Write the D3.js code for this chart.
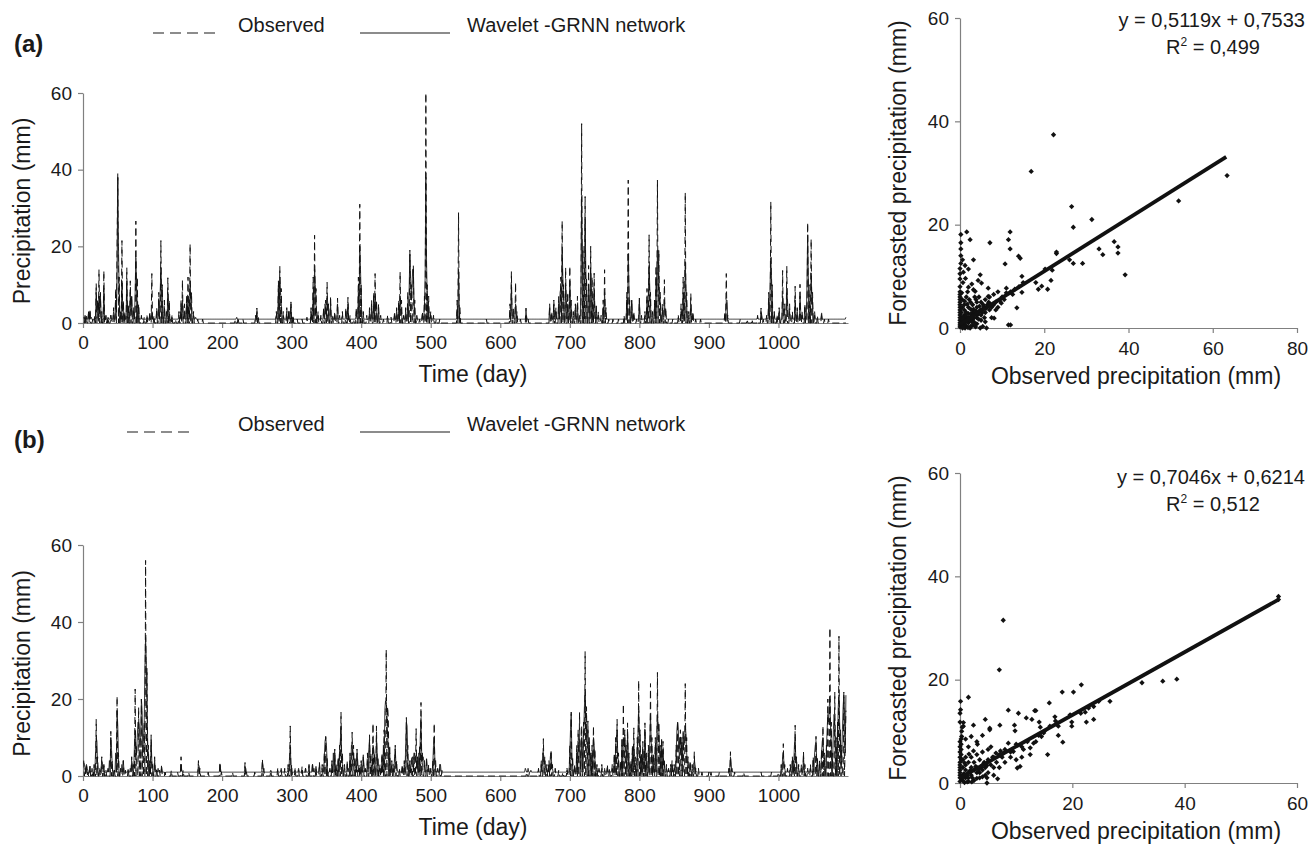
<!DOCTYPE html>
<html>
<head>
<meta charset="utf-8">
<script src="https://cdn.jsdelivr.net/npm/d3@7/dist/d3.min.js"></script>
<style>
  body { margin: 0; background: #fff; }
  svg { display: block; }
</style>
</head>
<body>
<svg id="chart" width="1311" height="844"></svg>
<script>
  // ---- data ----
  // time-series: [day, mm]; days that are not listed sit at the baseline
  const obsA = [[3,2],[5,1.5],[8,3],[10,3.5],[14,1],[17,2],[19,10.3],[21,6],[23,13.9],[25,8],[27,3],[30,13.6],[33,2],[36,1.5],[40,2],[44,4],[47,9],[49,20],[50,39],[52,12],[54,3],[56,21.5],[58,6],[60,3],[63,14.4],[65,5],[68,11],[70,7],[73,4],[76,26.6],[78,12],[80,5],[84,2],[88,1.5],[92,2],[96,3],[99,12.9],[102,2],[106,4],[109,8],[112,21.5],[114,10],[117,6],[120,3],[122,11.8],[124,6],[128,2],[133,1],[138,3],[141,6],[143,11.2],[146,5],[149,7],[151,12],[154,20.6],[156,8],[159,3],[165,1],[172,1],
    [219,1],[223,1.5],[230,1],[248,2],[250,3.9],[252,1.5],
    [278,3],[281,11],[283,14.8],[285,9],[288,3],[293,4],[296,3.5],[299,5.5],[302,2],[308,1],[315,1],[322,1.5],[328,4],[331,12],[333,22.9],[335,9],[338,3],[342,2],[346,4],[349,6],[351,10.6],[353,5],[356,7],[359,2],[362,3],[366,6.5],[369,2],[373,3],[378,4],[381,6.7],[384,2],[389,1],[393,4],[396,12],[398,31],[400,10],[403,3],[408,2],[412,4],[415,6],[418,8],[420,12.9],[422,6],[425,5],[428,2],[432,1],[438,2],[443,1.5],[448,3],[451,4],[454,6],[456,13.3],[458,6],[461,2],[464,4],[467,8],[470,19],[472,10],[475,15],[477,6],[480,2],[484,1],[488,3],[491,7],[493,60],[495,10],[497,7],[500,3],[504,2],[508,1],[513,1],
    [538,6],[540,28.8],[542,4],[580,1],[614,5],[616,13.4],[619,4],[622,10.6],[624,3],[629,1],[637,3.9],[640,1],
    [671,5],[674,3],[677,6],[680,4],[684,6.9],[687,12],[689,26.6],[691,10],[694,14.4],[697,8],[700,14.8],[702,6],[705,3],[708,5],[711,7],[714,2],[717,52],[719,20],[722,33],[724,12],[727,15],[730,20],[732,12],[735,13],[738,5],[741,3],[745,2],[748,6],[750,13.9],[752,4],[756,1],[762,1],
    [770,1],[778,2],[782,8],[784,37.3],[786,6],[789,6],[792,3],[796,1],[800,6.5],[803,2],[808,3],[811,9],[814,23],[816,8],[819,3],[822,6],[824,15],[826,37.3],[828,19],[830,8],[833,5],[836,11.3],[838,4],[842,1],[848,1],[856,2],[860,5],[863,12],[866,34],[868,8],[871,3],[874,7.7],[877,3],[881,1],[888,1],
    [923,3],[925,12.9],[927,2],[945,1],[955,1],[962,1],[970,2],[975,3.9],[978,1],[983,2],[986,8],[989,31.6],[991,10],[994,3],[998,2],[1001,4],[1006,13.7],[1009,5],[1012,14.8],[1016,5],[1020,3],[1024,9.6],[1027,4],[1031,10.1],[1034,3],[1038,5],[1042,26.2],[1044,10],[1047,21.9],[1049,8],[1052,3],[1056,2],[1062,3],[1066,1],[1072,1]];

  const fcA = [[1,1.5],[3,2],[5,1.8],[8,2.5],[10,3],[12,1.5],[14,0.5],[17,1.5],[19,8],[20,3],[21,5],[22,2],[23,7],[24,4],[25,7.5],[26,2],[27,0],[28,1],[30,9],[31,2],[33,1.5],[35,0],[36,1.5],[40,2],[44,3],[46,1],[47,6],[48,3],[49,14],[50,38],[51,20],[52,8],[53,0],[54,2],[56,11],[57,4],[58,5],[59,0],[60,2],[63,11],[64,3],[65,4],[66,0],[68,8],[69,3],[70,7],[71,1],[73,3],[75,8],[76,17],[77,10],[78,5],[79,0],[80,4],[81,1],[84,1.5],[92,1.5],[96,2],[99,3],[100,1],[106,3],[109,6],[111,8],[112,14.5],[113,9],[114,5],[115,0],[117,4],[120,2],[122,8],[123,4],[124,3],[125,0],[128,1.5],[138,2],[141,4],[143,6],[144,2],[146,3],[149,5],[151,7],[154,10],[155,6],[156,4],[157,0],[159,2],[162,1.5],
    [221,1.5],[250,3],[251,1.5],
    [278,2],[281,9],[283,12],[284,8],[285,6],[286,0],[288,2],[293,3],[294,0],[296,3],[299,5],[300,0],[302,1.5],[328,3],[331,8],[333,14],[334,10],[335,6],[336,0],[338,2],[342,1.5],[346,3],[348,5],[349,4],[351,7],[352,5],[353,3],[354,0],[356,5],[359,1.5],[362,2],[366,5],[367,1],[373,2],[378,3],[381,5],[382,1],[393,3],[396,8],[398,20],[399,14],[400,7],[401,0],[403,2],[412,3],[415,4],[418,6],[420,7],[421,4],[422,5],[423,0],[425,3],[438,1.5],[448,2],[451,3],[454,5],[456,7],[457,4],[458,3],[459,0],[461,1.5],[464,3],[467,5],[469,9],[470,18],[471,12],[472,7],[473,9],[474,14],[475,14],[476,6],[477,3],[478,0],[480,1.5],[488,2],[491,5],[492,12],[493,38],[494,16],[495,6],[497,4],[498,0],[500,2],[504,1.5],
    [538,3],[540,14],[541,4],[542,0],[614,3],[616,10],[617,3],[619,2],[622,5],[623,2],[624,1.5],[637,3],[638,1.5],
    [671,4],[674,2],[677,5],[680,3],[684,5],[686,8],[687,9],[689,19],[690,12],[691,7],[692,0],[694,10],[695,6],[697,5],[698,0],[700,11],[701,5],[702,3],[705,2],[708,4],[711,5],[712,0],[714,1.5],[716,10],[717,33],[718,18],[719,10],[720,0],[721,8],[722,27],[723,14],[724,8],[725,0],[727,10],[728,6],[730,14],[731,8],[732,7],[733,0],[735,9],[736,4],[738,3],[741,2],[748,4],[750,8],[751,3],[752,2],
    [782,6],[784,18],[785,10],[786,5],[787,0],[789,6],[790,2],[792,2],[800,6],[801,1],[808,2],[811,6],[813,8],[814,15],[815,9],[816,5],[817,0],[819,2],[822,5],[824,12],[825,8],[826,19],[827,19],[828,12],[829,6],[830,5],[831,0],[833,3],[836,6],[837,3],[838,2],[856,1.5],[860,3],[863,8],[866,16],[867,9],[868,5],[869,0],[871,2],[874,5],[875,2],[877,2],
    [923,2],[925,6],[926,6],[927,1.5],[970,1.5],[975,3],[976,2],[983,1.5],[986,5],[988,10],[989,17],[990,12],[991,6],[992,0],[994,2],[998,1.5],[1001,3],[1003,0],[1006,7],[1007,4],[1009,0],[1012,9],[1013,6],[1014,2],[1016,3],[1020,2],[1024,6],[1025,2],[1027,3],[1031,7],[1032,3],[1034,2],[1038,4],[1041,10],[1042,23],[1043,12],[1044,6],[1045,0],[1047,13],[1048,7],[1049,5],[1050,0],[1052,2],[1062,2],[1097,1.5]];

  const obsB = [[1,4],[3,2],[5,3],[7,1],[10,2.5],[13,1],[16,3],[19,14.7],[21,5],[24,2],[27,5],[30,3],[33,1.5],[36,2],[40,11.6],[42,4],[45,2],[49,20.7],[51,6],[54,2],[58,4],[61,1.5],[65,2],[70,5],[73,3],[75,22.6],[77,8],[80,17.8],[82,10],[84,20],[86,8],[88,14],[90,56],[92,28],[94,8],[96,4],[98,10.7],[100,3],[103,5],[106,2],[110,1.5],[113,3],[118,1],[127,1.5],[136,1],[141,5],[144,1.5],[152,1],[166,4],[168,2],[180,1],[197,3.5],[199,1],[215,1],[233,3.5],[235,1],[247,1],[258,4.4],[260,2],[270,1.5],[280,2],[285,1.5],[290,2],[295,3],[298,13],[300,3],[305,2],[310,1.5],[315,2.5],[320,2],[325,3],[330,3.5],[335,2],[340,3.5],[344,3],[347,6],[349,10.3],[351,5],[355,2],[358,4],[362,7],[364,3],[367,5],[369,8],[371,16.6],[373,6],[376,3],[380,4],[384,6],[387,11.4],[389,8],[391,5],[394,7],[397,3],[400,4],[403,5.5],[406,2],[409,6],[412,10.7],[414,6],[417,13.7],[419,6],[422,13],[424,5],[427,3],[430,6],[433,12],[436,32.8],[438,18],[439,15],[441,8],[444,4],[446,3],[449,8],[451,4],[455,2],[459,3],[462,4],[465,15.2],[467,8],[470,4],[473,5],[476,6],[479,12.3],[481,5],[484,8],[486,19.1],[488,6],[491,4],[494,5],[497,3],[500,2],[503,4],[505,13.7],[507,4],[510,2],[513,3],[516,1],
    [638,1],[642,1],[655,2],[659,4],[662,9.7],[664,5],[667,3],[670,4],[673,6.8],[675,3],[679,2],[684,1.5],[690,1],[696,2],[700,8],[702,16.6],[704,5],[707,3],[710,8],[712,12],[714,16.5],[716,8],[717,13],[719,9],[720,14],[722,32.3],[724,18],[726,14.3],[728,10],[730,6],[732,8],[734,13],[736,7],[739,3],[742,2],[746,3],[750,2],[754,3],[757,2],[761,3],[764,6],[766,10],[768,14.7],[770,6],[773,4],[775,10],[777,18.7],[779,12],[781,8],[783,13.8],[785,6],[788,4],[790,8],[792,12.5],[794,5],[797,10],[799,24.8],[801,12],[803,6],[805,9],[808,13.8],[810,6],[813,8],[816,24],[818,10],[820,6],[823,10],[826,26.9],[828,14],[830,8],[832,10],[834,9],[836,4],[839,3],[842,2],[845,3],[847,4],[850,3],[853,8],[855,14.3],[857,9],[859,12],[861,10],[863,12],[866,24],[868,10],[870,5],[873,4],[876,3],[879,6.3],[881,2],[885,2],[890,1],[900,1],[903,1],[915,1],[929,2],[931,6.3],[933,2],[937,1],[950,1],[975,1],[990,1],[1000,1],
    [1004,3],[1007,8.4],[1009,3],[1013,2],[1017,3],[1020,5],[1022,4],[1024,13.2],[1026,5],[1029,3],[1033,3],[1036,6.3],[1038,3],[1042,2],[1046,3],[1050,5],[1054,10.3],[1056,5],[1059,4],[1062,7],[1064,13],[1066,6],[1069,8],[1071,20],[1074,38.5],[1076,14],[1078,6],[1081,21.8],[1083,10],[1085,14],[1087,36.3],[1089,12],[1091,8],[1094,21.8],[1096,8],[1097,17]];

  const fcB = [[1,3.5],[2,3],[3,2.5],[4,1],[5,3],[6,2],[7,1.5],[8,0.5],[10,2.5],[11,1],[13,2],[15,0],[16,2],[18,6],[19,10],[20,9],[21,3],[22,0],[24,1.5],[26,2],[27,4],[28,3],[29,1],[30,2.5],[33,1],[36,1.5],[38,4],[40,10],[41,7],[42,3],[43,0],[45,1.5],[47,6],[49,17],[50,13],[51,5],[52,0],[54,1.5],[56,3],[58,4],[59,1],[65,1.5],[68,2],[70,4],[71,3],[72,0],[73,2],[74,8],[75,12],[76,5],[77,6],[78,10],[79,14],[80,14],[81,13],[82,9],[83,10],[84,20],[85,17],[86,6],[87,10],[88,13],[89,28],[90,36],[91,30],[92,20],[93,9],[94,5],[95,0],[96,3],[98,9],[99,4],[100,2],[101,0],[103,4],[104,2],[106,1.5],[108,2],[113,2],[118,0.5],[141,3],[142,1.5],[166,3],[167,2.5],[197,3],[198,1.5],[233,2.5],[234,2],[258,3.5],[259,2.5],[270,1.5],[280,1.5],[285,2],[290,1.5],[295,2],[297,5],[298,8],[299,3],[300,0],[305,1.5],[310,2],[315,1.5],[320,2],[325,2.5],[330,3],[332,2],[335,2.5],[340,3],[344,2],[347,5],[348,9],[349,10],[350,8],[351,4],[352,0],[355,1.5],[358,3],[360,6],[362,6],[363,2],[364,0],[367,4],[369,7],[370,9],[371,13],[372,5],[373,3],[374,0],[376,2],[380,3],[382,2],[384,5],[386,8],[387,8],[388,7],[389,5],[390,3],[391,4],[392,2],[394,6],[395,4],[397,2],[398,0],[400,3],[403,5],[404,3],[406,1.5],[409,4],[411,7],[412,9],[413,5],[414,4],[415,0],[417,8],[418,7],[419,5],[420,0],[422,10],[423,6],[424,4],[425,0],[427,2],[430,5],[432,8],[434,17],[435,19.5],[436,19],[437,17],[438,10],[439,8],[440,0],[441,6],[443,3],[444,2],[446,2],[448,5],[449,7],[450,3],[451,2],[455,1.5],[459,2],[462,3],[464,8],[465,14],[466,13],[467,5],[468,0],[470,3],[472,4],[473,4.5],[474,5],[476,5],[477,6],[478,4],[479,5],[480,2],[481,4],[483,6],[485,10],[486,15],[487,6],[488,4],[489,5],[490,4],[491,3],[494,4],[495,2],[497,2],[500,1.5],[503,3],[504,8],[505,10],[506,4],[507,2],[510,1.5],[513,2.5],[514,3],[516,1.5],
    [636,2],[637,1.5],[640,2],[644,1.5],[655,1.5],[659,3],[661,6],[662,6],[663,3],[664,4],[665,2],[667,2],[670,3],[672,5],[673,6],[674,3],[675,2],[679,1.5],[696,1.5],[700,6],[701,12],[702,16],[703,5],[704,3],[705,0],[707,2],[710,6],[712,8],[713,9],[714,9],[715,5],[717,10],[718,6],[720,12],[721,18],[722,22],[723,15],[724,10],[725,12],[726,12],[727,6],[728,8],[729,4],[730,4],[731,0],[732,6],[734,10],[735,8],[736,5],[737,0],[739,2],[742,1.5],[746,2],[750,1.5],[754,2],[757,1.5],[761,2],[764,5],[766,8],[767,10],[768,12],[769,5],[770,4],[771,0],[773,3],[775,8],[777,10],[778,9],[779,10],[780,8],[781,6],[783,11],[784,6],[785,4],[786,0],[788,3],[790,6],[792,8],[793,4],[794,3],[795,0],[797,7],[798,11],[799,17],[800,12],[801,8],[802,0],[803,4],[805,7],[806,4],[808,12],[809,6],[810,4],[811,0],[813,6],[815,9],[816,16],[817,9],[818,6],[819,0],[820,4],[823,8],[825,10],[826,16],[827,13],[828,12],[829,6],[830,5],[831,0],[832,8],[834,7],[835,3],[836,3],[839,2],[842,1.5],[845,2],[847,3],[850,2],[853,6],[854,12],[855,14],[856,12],[857,7],[858,10],[859,10],[860,6],[861,8],[862,4],[863,10],[864,8],[865,9],[866,13],[867,11],[868,6],[869,3],[870,0],[873,3],[876,2],[879,4],[880,3],[881,1.5],
    [929,2],[931,5],[932,3],[933,1.5],[1004,2],[1006,5],[1007,6],[1008,3],[1009,2],[1013,1.5],[1017,2],[1020,4],[1022,3],[1023,8],[1024,10],[1025,4],[1026,3],[1027,0],[1029,2],[1033,2],[1036,5],[1037,2],[1042,1.5],[1046,2],[1050,4],[1052,6],[1053,8],[1054,9],[1055,4],[1056,3],[1057,0],[1059,3],[1062,6],[1063,9],[1064,10],[1065,5],[1066,4],[1067,0],[1069,7],[1070,12],[1071,16],[1072,14],[1073,18],[1074,20],[1075,12],[1076,8],[1077,0],[1078,5],[1079,12],[1080,16],[1081,14],[1082,8],[1083,6],[1084,0],[1085,10],[1086,18],[1087,21],[1088,14],[1089,8],[1090,3],[1091,6],[1092,12],[1093,18],[1094,21],[1095,16],[1096,6],[1097,21]];

  const obsBaseline = 0;      // mm on dry days (observed)
  const fcBaseline = 1;       // mm on dry days (forecast)
  const lastDay = 1097;

  // scatter: [observed, forecasted]
  const scatterA = [[63.4,29.5],[51.9,24.6],[22.2,37.4],[16.9,30.3],[26.5,23.5],[26.9,19.5],[31.3,21],[36.6,16.7],[37.5,15.7],[37.5,14.5],[33,15.3],[33.9,14.2],[39.2,10.3],[29.1,12.5],[26.9,12.5],[26,13.2],[22.9,14.4],[22.9,14.7],[21.9,11.2],[21.6,9.2],[20.2,11.4],[20.8,7.5],[18.6,7.5],[18,8.8],[19.4,8.1],[11.9,18.6],[11.5,17.1],[11.9,15.3],[13.9,13.9],[14.3,13.5],[10.7,12.4],[7.1,16.5],[2.4,17.1],[1.6,18.6],[0.2,18.1],[0.2,16.5],[0.2,15.3],[0.6,13.2],[3.2,13.2],[1.2,12.1],[2,11.4],[0.8,10.8],[4.8,10.3],[11.5,0.6],[12,0.6],[14.7,10],[14.7,6.9],[13.5,3.9],[11,7.7],[11,6.8],[9.5,5.2],[6.7,7.7],[6.7,6.1],[5.1,8.7],[3.6,7.1],[3.2,7.4],[2,7.9],[8.1,1.9],[6.3,0],[4.8,0],[2.4,0],[1.2,0],[5.4,0.3],
    [15,8.8],[14,8],[13,7.5],[12.5,6.5],[12,7],[10.5,5.5],[10,6],[9.8,4.8],[8.5,5],[8,4.5],[7.5,4],[7,3.5],[6.5,4.5],[6,3],[5.5,3.8],[5,2.5],[4.5,3.2],[4,2],[4,4],[3.5,2.8],[3,1.5],[3,3],[2.5,2.2],[2,1],[2,2.8],[1.5,1.8],[1,0.8],[1,1.5],[1,2.5],[0.5,0.5],[0.5,1.2],[0.5,2],[0.3,3],[0,0.2],[0,0.6],[0,1],[0,1.5],[0,2],[0,2.5],[0,3],[0,3.5],[0,4],[0,4.5],[0,5],[0,5.5],[0,6],[0,6.5],[0,7],[0,8],[0,9.5],[0,10.5],[0,11.5],[0.5,4],[0.5,5.5],[1,3.5],[1,4.5],[1.5,3],[1.5,6],[2,4],[2.5,5],[3,4.5],[3.5,6],[4,5],[4.5,6],[5,5],[5.5,4.5],[6,5.5],[7,6],[8,6.5],[9,7],[7.5,2],[6,1.2],[4,0.8],[3,0.5],[2.5,0.3],[5,1.5],[1.5,0.4],[3.5,1],[0.3,0.3],[0.8,0.2],[5.8,2],[8.5,3.5],[9,4],[1.8,7],[2.8,8.5],[4.3,9.2],[2.2,5.5],
    [0.3,0.8],[0.6,1.6],[0.9,2.1],[1.2,1.1],[1.4,2.3],[1.7,1.4],[1.9,2],[2.2,1.6],[2.6,2.7],[2.9,2.2],[3.2,3.6],[3.4,2],[3.8,3.3],[4.2,2.6],[4.6,4.2],[4.9,3.5],[5.3,3],[5.7,4.2],[6.2,3.8],[6.8,5],[7.2,4.6],[1.1,5.2],[0.4,6.8],[0.7,8.8],[1.3,9.6],[0.2,12.5],[0.2,14],[3.8,5.5],[2.6,3.6],[1.7,4.6],[2.8,1.2],[4.4,1.7],[3.7,0.2],[0.6,0],[1.9,0.1]];

  const scatterB = [[56.7,36.1],[56.7,35.5],[7.7,31.5],[7,21.9],[32.4,19.4],[36.1,19.7],[38.6,20.1],[21.6,19],[20.2,17.6],[18.2,17.6],[26.7,15.8],[24.7,15.8],[23.8,14.8],[22.9,14.5],[22.3,13.7],[21.5,13.5],[19.6,13.2],[19.9,11.8],[19.9,11],[22.5,11.8],[23.8,12.3],[18.3,7.9],[17.5,11],[17.5,9.2],[16.9,12.8],[15.9,15.5],[13.5,14],[13.3,14],[11.8,12.6],[12.8,12.3],[14.1,11.8],[14.3,10.8],[14.9,9.7],[15.6,5.5],[14,9.2],[13.1,7.7],[12.5,6.8],[10.7,3.2],[10.2,2.9],[10.4,13.5],[8.6,14.1],[9.7,11.2],[9.8,10.1],[7.1,11.2],[5.3,10.6],[5.3,10.3],[4.5,12.3],[2.4,11.2],[1.5,16.6],[0.1,15.8],[0.1,14.2],[0.6,11.7],[0.6,11],[0.3,10],[0.3,9],[3.1,7.5],[4,9.2],[4.8,1],[4.8,0],[6.7,0.8],[7.7,5.8],[8.6,7.7],[9.5,6.1],[11.3,6.5],
    [12,8],[11,7],[10,7.5],[9,6],[8,6.5],[7.5,5],[7,5.5],[6.5,4],[6,5],[5.5,3.5],[5,4.5],[4.5,3],[4,3.5],[4,2.5],[3.5,2],[3,3],[3,2],[2.5,2.5],[2,1.5],[2,3],[1.5,1],[1.5,2],[1,1],[1,2.5],[0.5,0.5],[0.5,1.5],[0,0.3],[0,1],[0,1.5],[0,2],[0,2.5],[0,3],[0,3.5],[0,4],[0,5],[0,6],[0,7],[0,8],[0.5,3],[0.5,4.5],[1,3.5],[1,5],[1.5,4],[2,5],[2.5,4],[3,5.5],[3.5,4.5],[4,6],[5,6.5],[5.5,7],[6,3],[7,3],[4.5,1.5],[3.5,1],[2.5,0.5],[1.5,0.3],[0.8,0.1],[6,1.5],[5,2],[8,4],[9,5],[10,4.5],[11,5],[12.5,5.5],[13.5,8],[14.5,9],[15,10],[16,11],[17,12],[1,8.5],[2,9],[3,8],[1.5,7],
    [0.3,0.9],[0.7,1.8],[1.2,1.5],[1.8,2.4],[2.2,1],[2.8,3.2],[3.3,2.6],[3.8,3],[4.3,4],[4.8,3.4],[5.2,4.2],[5.8,5],[6.4,5.8],[7.2,6.2],[0.2,4.5],[0.2,5.5],[0.2,6.5],[0.2,7.5],[0.2,8.5],[0.4,10.8],[1.3,0.2],[2.1,0.2],[3,0.9],[4,1.2],[0.8,3.9],[1.6,5.6],[2.4,6.2],[0,11.8],[0,13.5]];

  // fitted lines as drawn: [observed, forecasted] end points
  const trendA = [[0, 0.75], [63.2, 33.1]];
  const trendB = [[0, 1.0], [56.7, 35.5]];

  const eqTextA = ["y = 0,5119x + 0,7533", "0,499"];
  const eqTextB = ["y = 0,7046x + 0,6214", "0,512"];

  const dayTicks = [0,100,200,300,400,500,600,700,800,900,1000];
  const mmTicks = [0,20,40,60];
  const scatterXTicksA = [0,20,40,60,80];
  const scatterXTicksB = [0,20,40,60];

  // ---- drawing ----
  const FONT = "'Liberation Sans', Arial, sans-serif";
  const AXIS = "#808080";
  const INK = "#1a1a1a";
  const svg = d3.select("#chart");

  function styleAxis(g) {
    g.attr("font-family", FONT).attr("font-size", 19);
    g.select(".domain").attr("stroke", AXIS).attr("stroke-width", 1.2);
    g.selectAll(".tick line").attr("stroke", AXIS).attr("stroke-width", 1.2);
    g.selectAll(".tick text").attr("fill", INK);
  }

  function daily(list, base) {
    const m = new Map(list);
    return d3.range(1, lastDay + 1).map(d => [d, m.has(d) ? m.get(d) : base]);
  }

  function drawSeries(p) {
    const x = d3.scaleLinear().domain([0, 1100]).range([83, 848]);
    const y = d3.scaleLinear().domain([0, 60]).range([p.bottom, p.top]);
    const line = d3.line().x(d => x(d[0])).y(d => y(d[1]));

    svg.append("g").attr("transform", `translate(0,${p.bottom})`)
      .call(d3.axisBottom(x).tickValues(dayTicks).tickFormat(d3.format("d"))
        .tickSize(5).tickSizeOuter(0).tickPadding(8))
      .call(styleAxis);
    svg.append("g").attr("transform", "translate(83,0)")
      .call(d3.axisLeft(y).tickValues(mmTicks).tickSize(5).tickSizeOuter(0).tickPadding(6))
      .call(styleAxis);

    svg.append("path").datum(daily(p.fc, fcBaseline))
      .attr("d", line).attr("fill", "none").attr("stroke", "#222").attr("stroke-width", 0.9);
    svg.append("path").datum(daily(p.obs, obsBaseline))
      .attr("d", line).attr("fill", "none").attr("stroke", "#111").attr("stroke-width", 1)
      .attr("stroke-dasharray", "7,4");

    svg.append("text").attr("transform", `translate(30,${(p.top + p.bottom) / 2 + 3}) rotate(-90)`)
      .attr("text-anchor", "middle").attr("font-family", FONT).attr("font-size", 23).attr("fill", INK)
      .text("Precipitation (mm)");
    svg.append("text").attr("x", 473).attr("y", p.bottom + 59)
      .attr("text-anchor", "middle").attr("font-family", FONT).attr("font-size", 23).attr("fill", INK)
      .text("Time (day)");

    // legend
    svg.append("line").attr("x1", p.dashX[0]).attr("x2", p.dashX[1]).attr("y1", p.legendY).attr("y2", p.legendY)
      .attr("stroke", INK).attr("stroke-width", 1.2).attr("stroke-dasharray", "11,6");
    svg.append("text").attr("x", 238).attr("y", p.legendY - 1).attr("font-family", FONT).attr("font-size", 20)
      .attr("fill", INK).text("Observed");
    svg.append("line").attr("x1", 360).attr("x2", 450).attr("y1", p.legendY).attr("y2", p.legendY)
      .attr("stroke", INK).attr("stroke-width", 1.2);
    svg.append("text").attr("x", 467).attr("y", p.legendY - 1).attr("font-family", FONT).attr("font-size", 20)
      .attr("fill", INK).text("Wavelet -GRNN network");
    svg.append("text").attr("x", 14).attr("y", p.labelY).attr("font-family", FONT).attr("font-size", 24)
      .attr("font-weight", "bold").attr("fill", INK).text(p.label);
  }

  function drawScatter(p) {
    const x = d3.scaleLinear().domain([0, p.xMax]).range([960, 1297]);
    const y = d3.scaleLinear().domain([0, 60]).range([p.bottom, p.top]);

    svg.append("g").attr("transform", `translate(0,${p.bottom})`)
      .call(d3.axisBottom(x).tickValues(p.xTicks).tickSize(5).tickSizeOuter(0).tickPadding(9))
      .call(styleAxis);
    svg.append("g").attr("transform", "translate(960,0)")
      .call(d3.axisLeft(y).tickValues(mmTicks).tickSize(5).tickSizeOuter(0).tickPadding(6))
      .call(styleAxis);

    const sym = d3.symbol(d3.symbolSquare, 14);
    svg.append("g").selectAll("path").data(p.points).join("path")
      .attr("d", sym)
      .attr("transform", d => `translate(${x(d[0])},${y(d[1])}) rotate(45)`)
      .attr("fill", "#111");

    svg.append("path").datum(p.trend)
      .attr("d", d3.line().x(d => x(d[0])).y(d => y(d[1])))
      .attr("fill", "none").attr("stroke", "#111").attr("stroke-width", 3.8);

    svg.append("text").attr("x", 1305).attr("y", p.eqY).attr("text-anchor", "end")
      .attr("font-family", FONT).attr("font-size", 20).attr("fill", INK).text(p.eq[0]);
    const r2 = svg.append("text").attr("x", 1166).attr("y", p.eqY + 27)
      .attr("font-family", FONT).attr("font-size", 20).attr("fill", INK);
    r2.append("tspan").text("R");
    r2.append("tspan").attr("font-size", 12).attr("dy", -8).text("2");
    r2.append("tspan").attr("dy", 8).text(" = " + p.eq[1]);

    svg.append("text").attr("transform", `translate(906,${(p.top + p.bottom) / 2}) rotate(-90)`)
      .attr("text-anchor", "middle").attr("font-family", FONT).attr("font-size", 23).attr("fill", INK)
      .text("Forecasted precipitation (mm)");
    svg.append("text").attr("x", 1136).attr("y", p.bottom + 56)
      .attr("text-anchor", "middle").attr("font-family", FONT).attr("font-size", 23).attr("fill", INK)
      .text("Observed precipitation (mm)");
  }

  drawSeries({ obs: obsA, fc: fcA, top: 93, bottom: 323, legendY: 33, dashX: [153, 215], label: "(a)", labelY: 52 });
  drawSeries({ obs: obsB, fc: fcB, top: 545, bottom: 776, legendY: 432, dashX: [127, 190], label: "(b)", labelY: 448 });
  drawScatter({ points: scatterA, xMax: 80, xTicks: scatterXTicksA, top: 18, bottom: 328, trend: trendA, eq: eqTextA, eqY: 27 });
  drawScatter({ points: scatterB, xMax: 60, xTicks: scatterXTicksB, top: 473, bottom: 783, trend: trendB, eq: eqTextB, eqY: 484 });
</script>
</body>
</html>
